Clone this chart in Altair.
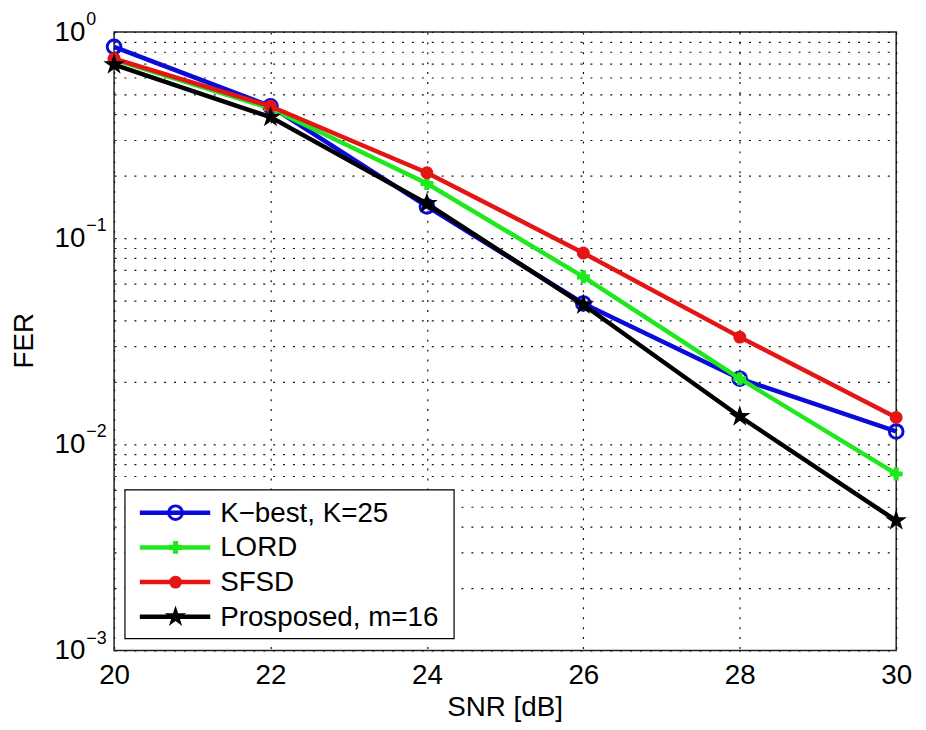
import altair as alt
import pandas as pd

# ---- data ----
snr = [20, 22, 24, 26, 28, 30]
kbest = [0.847, 0.436, 0.1425, 0.0482, 0.0208, 0.01154]
lord = [0.733, 0.426, 0.184, 0.0649, 0.0208, 0.00718]
sfsd = [0.742, 0.436, 0.2076, 0.0847, 0.0331, 0.01349]
proposed = [0.694, 0.386, 0.147, 0.0475, 0.01364, 0.00426]

series_names = ["K\u2212best, K=25", "LORD", "SFSD", "Prosposed, m=16"]
series_values = [kbest, lord, sfsd, proposed]
series_colors = ["#0b0bd9", "#1fe81f", "#e41515", "#000000"]

x_ticks = [20, 22, 24, 26, 28, 30]
decades = [1, 0.1, 0.01, 0.001]
decade_base = ["10", "10", "10", "10"]
decade_exp = ["0", "\u22121", "\u22122", "\u22123"]
y_grid = [m * d for d in [0.001, 0.01, 0.1] for m in range(1, 10)] + [1]

FONT = "Liberation Sans"
W, H = 789, 624

xscale = alt.Scale(domain=[20, 30], nice=False, zero=False)
yscale = alt.Scale(type="log", domain=[0.001, 1], nice=False)

xaxis = alt.Axis(values=x_ticks, grid=True, ticks=False, domain=False,
                 labelFlush=False, labelOverlap=False,
                 labelFontSize=28, labelFont=FONT, labelColor="black",
                 labelPadding=11, gridDash=[2, 8], gridColor="#111",
                 gridWidth=1.2, gridOpacity=1, title="SNR [dB]",
                 titleFont=FONT, titleFontSize=28, titleFontWeight="normal",
                 titleColor="black", titleX=394, titleY=58,
                 titleBaseline="middle", titleAlign="center")
yaxis = alt.Axis(values=y_grid, grid=True, ticks=False, domain=False,
                 labels=False, gridDash=[2, 8], gridColor="#111",
                 gridWidth=1.2, gridOpacity=1, title="FER",
                 titleFont=FONT, titleFontSize=28, titleFontWeight="normal",
                 titleColor="black", titleX=-90, titleY=311, titleAngle=-90,
                 titleBaseline="middle", titleAlign="center")


def X(field):
    return alt.X(field, type="quantitative", scale=xscale, axis=xaxis)


def Y(field):
    return alt.Y(field, type="quantitative", scale=yscale, axis=yaxis)


marker_specs = [
    dict(shape="circle", filled=False, size=190, strokeWidth=3),
    dict(shape="cross", filled=True, size=170, strokeWidth=0),
    dict(shape="circle", filled=True, size=170, strokeWidth=0),
    dict(shape="M0,-1L0.2245,-0.309L0.951,-0.309L0.363,0.118L0.588,0.809L0,0.382L-0.588,0.809L-0.363,0.118L-0.951,-0.309L-0.2245,-0.309Z",
         filled=True, size=520, strokeWidth=0),
]

layers = []
for name, vals, col, ms in zip(series_names, series_values, series_colors, marker_specs):
    df = pd.DataFrame({"snr": snr, "fer": vals, "series": name})
    base = alt.Chart(df)
    layers.append(base.mark_line(color=col, strokeWidth=4.5).encode(x=X("snr"), y=Y("fer")))
    layers.append(base.mark_point(color=col, opacity=1, **ms).encode(x=X("snr"), y=Y("fer")))

# y tick labels 10^k as text with superscript
lab_df = pd.DataFrame({"v": decades, "base": decade_base, "exp": decade_exp})
layers.append(alt.Chart(lab_df).mark_text(font=FONT, fontSize=28, align="right",
                                           baseline="middle", dy=1, color="black").encode(
    x=alt.value(-29), y=Y("v"), text="base:N"))
layers.append(alt.Chart(lab_df).mark_text(font=FONT, fontSize=18, align="left",
                                           baseline="middle", dy=-12, color="black").encode(
    x=alt.value(-28), y=Y("v"), text="exp:N"))

# legend
one = pd.DataFrame({"a": [0]})
layers.append(alt.Chart(one).mark_rect(fill="white", stroke="black", strokeWidth=1.2).encode(
    x=alt.value(11), x2=alt.value(343), y=alt.value(462), y2=alt.value(612)))
for i, (name, col, ms) in enumerate(zip(series_names, series_colors, marker_specs)):
    yy = 485 + 35 * i
    layers.append(alt.Chart(one).mark_rule(color=col, strokeWidth=4.5).encode(
        x=alt.value(26), x2=alt.value(97), y=alt.value(yy)))
    layers.append(alt.Chart(one).mark_point(color=col, opacity=1, **ms).encode(
        x=alt.value(62), y=alt.value(yy)))
    layers.append(alt.Chart(one).mark_text(font=FONT, fontSize=28, align="left",
                                           baseline="middle", color="black").encode(
        x=alt.value(107), y=alt.value(yy + 1), text=alt.value(name)))

chart = alt.layer(*layers).properties(
    width=W, height=H,
    autosize=alt.AutoSizeParams(type="none"),
    padding={"left": 107, "top": 21, "right": 22, "bottom": 69},
    background="white",
).configure_view(stroke="#222", strokeWidth=1.5)

chart.save("out.html", embed_options={"renderer": "svg", "actions": False})
